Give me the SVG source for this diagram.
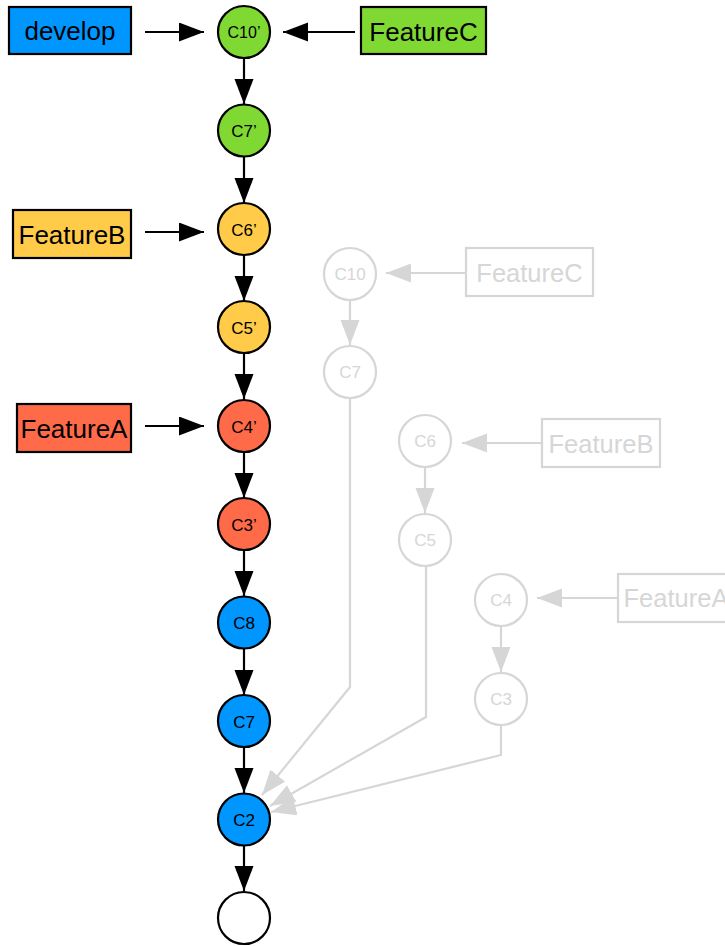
<svg xmlns="http://www.w3.org/2000/svg" width="725" height="946" viewBox="0 0 725 946">
  <defs>
    <marker id="ah" markerUnits="userSpaceOnUse" markerWidth="26" markerHeight="20" refX="25" refY="9.5" orient="auto">
      <path d="M0,0 L25,9.5 L0,19 z" fill="#000"/>
    </marker>
    <marker id="ahg" markerUnits="userSpaceOnUse" markerWidth="26" markerHeight="20" refX="25" refY="9.5" orient="auto">
      <path d="M0,0 L25,9.5 L0,19 z" fill="#d6d6d6"/>
    </marker>
    <style>
      .commit { stroke: #000; stroke-width: 2.2; }
      .ghost { fill: #fff; stroke: #d6d6d6; stroke-width: 2.2; }
      .ctext { font-family: "Liberation Sans", Arial, sans-serif; font-size: 17px; text-anchor: middle; fill: #000; }
      .gtext { font-family: "Liberation Sans", Arial, sans-serif; font-size: 17px; text-anchor: middle; fill: #d6d6d6; }
      .btext { font-family: "Liberation Sans", Arial, sans-serif; font-size: 26px; text-anchor: middle; fill: #000; }
      .gbtext { font-family: "Liberation Sans", Arial, sans-serif; font-size: 25.5px; text-anchor: middle; fill: #d6d6d6; }
      .branch { stroke: #000; stroke-width: 2.2; }
      .gbranch { fill: #fff; stroke: #d6d6d6; stroke-width: 2.2; }
      .edge { stroke: #000; stroke-width: 2.2; fill: none; marker-end: url(#ah); }
      .gedge { stroke: #d6d6d6; stroke-width: 2.2; fill: none; marker-end: url(#ahg); }
      .blue { fill: #0096ff; }
      .green { fill: #80d833; }
      .yellow { fill: #ffcb48; }
      .red { fill: #ff6a48; }
    </style>
  </defs>

  <!-- connectors -->
  <g id="connectors">
    <!-- rebased history -->
    <line class="edge" x1="244" y1="58" x2="244" y2="104"/>
    <line class="edge" x1="244" y1="157" x2="244" y2="203"/>
    <line class="edge" x1="244" y1="255" x2="244" y2="301"/>
    <line class="edge" x1="244" y1="353" x2="244" y2="399"/>
    <line class="edge" x1="244" y1="452" x2="244" y2="498"/>
    <line class="edge" x1="244" y1="550" x2="244" y2="596"/>
    <line class="edge" x1="244" y1="649" x2="244" y2="695"/>
    <line class="edge" x1="244" y1="747" x2="244" y2="793"/>
    <line class="edge" x1="244" y1="846" x2="244" y2="891"/>
    <!-- branch pointers -->
    <line class="edge" x1="145" y1="32" x2="204" y2="32"/>
    <line class="edge" x1="355" y1="32" x2="283" y2="32"/>
    <line class="edge" x1="145" y1="232" x2="204" y2="232"/>
    <line class="edge" x1="145" y1="426" x2="204" y2="426"/>
    <!-- old history -->
    <line class="gedge" x1="350" y1="300" x2="350" y2="345"/>
    <line class="gedge" x1="425" y1="467" x2="425" y2="513"/>
    <line class="gedge" x1="501" y1="626" x2="501" y2="672"/>
    <line class="gedge" x1="466" y1="273" x2="386" y2="273"/>
    <line class="gedge" x1="542" y1="443" x2="462" y2="443"/>
    <line class="gedge" x1="618" y1="598" x2="537" y2="598"/>
    <polyline class="gedge" points="350,398 350,687 262,795"/>
    <polyline class="gedge" points="426,566 426,717 270,806"/>
    <polyline class="gedge" points="501,725 501,755 271,812"/>
  </g>

  <!-- branch labels -->
  <g id="develop">
    <rect class="branch blue" x="9" y="7" width="122" height="47"/>
    <text class="btext" x="70" y="40">develop</text>
  </g>
  <g id="featureC">
    <rect class="branch green" x="361" y="7" width="125" height="47"/>
    <text class="btext" x="423.5" y="41">FeatureC</text>
  </g>
  <g id="featureB">
    <rect class="branch yellow" x="13" y="210" width="118" height="48"/>
    <text class="btext" x="72" y="244">FeatureB</text>
  </g>
  <g id="featureA">
    <rect class="branch red" x="17" y="404" width="114" height="48"/>
    <text class="btext" x="74" y="438">FeatureA</text>
  </g>

  <!-- rebased commits -->
  <g id="c10p"><circle class="commit green" cx="244" cy="32" r="26"/><text class="ctext" x="244" y="38" style="font-size:16px">C10’</text></g>
  <g id="c7p"><circle class="commit green" cx="244" cy="130.5" r="26"/><text class="ctext" x="244" y="137">C7’</text></g>
  <g id="c6p"><circle class="commit yellow" cx="244" cy="229" r="26"/><text class="ctext" x="244" y="235.5">C6’</text></g>
  <g id="c5p"><circle class="commit yellow" cx="244" cy="327" r="26"/><text class="ctext" x="244" y="333.5">C5’</text></g>
  <g id="c4p"><circle class="commit red" cx="244" cy="426" r="26"/><text class="ctext" x="244" y="432.5">C4’</text></g>
  <g id="c3p"><circle class="commit red" cx="244" cy="524" r="26"/><text class="ctext" x="244" y="530.5">C3’</text></g>
  <g id="c8"><circle class="commit blue" cx="244" cy="622.5" r="26"/><text class="ctext" x="244" y="629">C8</text></g>
  <g id="c7"><circle class="commit blue" cx="244" cy="721" r="26"/><text class="ctext" x="244" y="727.5">C7</text></g>
  <g id="c2"><circle class="commit blue" cx="244" cy="819.5" r="26"/><text class="ctext" x="244" y="826">C2</text></g>
  <g id="root"><circle class="commit" fill="#fff" cx="244" cy="918" r="26"/></g>

  <!-- old commits -->
  <g id="c10"><circle class="ghost" cx="350" cy="274" r="26"/><text class="gtext" x="350" y="280">C10</text></g>
  <g id="c7old"><circle class="ghost" cx="350" cy="372" r="26"/><text class="gtext" x="350" y="378">C7</text></g>
  <g id="c6"><circle class="ghost" cx="425" cy="441" r="26"/><text class="gtext" x="425" y="447">C6</text></g>
  <g id="c5"><circle class="ghost" cx="425" cy="540" r="26"/><text class="gtext" x="425" y="546">C5</text></g>
  <g id="c4"><circle class="ghost" cx="501" cy="600" r="26"/><text class="gtext" x="501" y="606">C4</text></g>
  <g id="c3"><circle class="ghost" cx="501" cy="699" r="26"/><text class="gtext" x="501" y="705">C3</text></g>

  <!-- old branch labels -->
  <g id="featureC-old">
    <rect class="gbranch" x="466" y="248" width="127" height="48"/>
    <text class="gbtext" x="529.5" y="282">FeatureC</text>
  </g>
  <g id="featureB-old">
    <rect class="gbranch" x="542" y="419" width="118" height="48"/>
    <text class="gbtext" x="601" y="453">FeatureB</text>
  </g>
  <g id="featureA-old">
    <rect class="gbranch" x="618" y="574" width="116" height="48"/>
    <text class="gbtext" x="676" y="607">FeatureA</text>
  </g>
</svg>
